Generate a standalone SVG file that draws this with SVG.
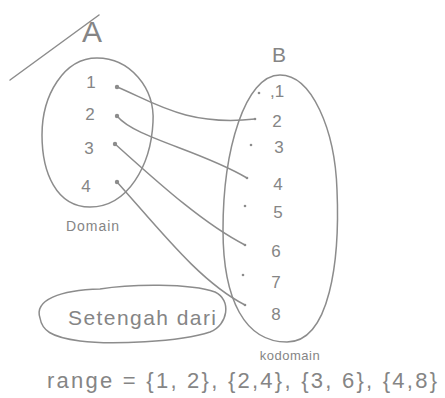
<svg xmlns="http://www.w3.org/2000/svg" width="445" height="398" viewBox="0 0 445 398">
<style>
  .ln { fill: none; stroke: #8c8c8c; stroke-width: 1.5; stroke-linecap: round; stroke-linejoin: round; }
  .t { font-family: "Liberation Sans", Arial, sans-serif; fill: #858585; }
  .num { font-size: 17px; text-anchor: middle; }
  .dot { fill: #8c8c8c; }
</style>
<rect width="445" height="398" fill="#ffffff"/>

<path class="ln" d="M10 80 C 40 58, 70 36, 99 15" stroke-width="2.2"/>

<g id="setA">
  <text class="t" x="92" y="42" font-size="30" text-anchor="middle">A</text>
  <path class="ln" d="M97 58 C 130 58, 155 88, 153 122 C 151 165, 128 207, 90 207 C 56 207, 42 172, 42 135 C 42 95, 64 58, 97 58 Z"/>
  <text class="t" x="93" y="231" font-size="14" text-anchor="middle" letter-spacing="1">Domain</text>
</g>
<g id="a1"><text class="t num" x="91" y="88">1</text><circle class="dot" cx="117" cy="87" r="2.2"/></g>
<g id="a2"><text class="t num" x="90" y="120">2</text><circle class="dot" cx="117" cy="116" r="2.2"/></g>
<g id="a3"><text class="t num" x="89" y="154">3</text><circle class="dot" cx="115" cy="144" r="2.2"/></g>
<g id="a4"><text class="t num" x="86" y="192" font-size="21">4</text><circle class="dot" cx="117" cy="182" r="2.2"/></g>

<g id="setB">
  <text class="t" x="279" y="62" font-size="21" text-anchor="middle">B</text>
  <path class="ln" d="M280 75 C 312 75, 335 130, 337 190 C 340 260, 330 342, 287 342 C 245 342, 223 300, 223 230 C 223 150, 245 75, 280 75 Z"/>
  <text class="t" x="290" y="360" font-size="13" text-anchor="middle" letter-spacing="0.5">kodomain</text>
</g>
<g id="b1"><circle class="dot" cx="259" cy="93" r="1.3"/><text class="t num" x="277" y="97" font-size="14">,1</text></g>
<g id="b2"><circle class="dot" cx="255" cy="119" r="1.3"/><text class="t num" x="277" y="127">2</text></g>
<g id="b3"><circle class="dot" cx="251" cy="145" r="1.3"/><text class="t num" x="279" y="153">3</text></g>
<g id="b4"><circle class="dot" cx="247" cy="178" r="1.3"/><text class="t num" x="278" y="190">4</text></g>
<g id="b5"><circle class="dot" cx="245" cy="206" r="1.3"/><text class="t num" x="278" y="218">5</text></g>
<g id="b6"><circle class="dot" cx="245" cy="245" r="1.3"/><text class="t num" x="276" y="257">6</text></g>
<g id="b7"><circle class="dot" cx="243" cy="275" r="1.3"/><text class="t num" x="276" y="288">7</text></g>
<g id="b8"><circle class="dot" cx="245" cy="305" r="1.3"/><text class="t num" x="276" y="320" font-size="19">8</text></g>

<g id="connectors">
  <path class="ln" d="M117 87 C 150 100, 185 127, 255 119"/>
  <path class="ln" d="M117 116 C 135 138, 200 150, 247 178"/>
  <path class="ln" d="M115 144 C 150 175, 200 222, 245 245"/>
  <path class="ln" d="M117 182 C 160 230, 200 282, 245 305"/>
</g>

<g id="note">
  <path class="ln" d="M40 318 C 34 300, 60 290, 100 289 C 130 284, 190 283, 215 292 C 232 300, 228 325, 210 332 C 180 342, 110 345, 80 341 C 50 337, 42 330, 40 318 Z"/>
  <text class="t" x="68" y="325" font-size="21" textLength="148" lengthAdjust="spacing">Setengah dari</text>
</g>

<text class="t" x="47" y="388" font-size="22" textLength="390" lengthAdjust="spacing">range = {1, 2}, {2,4}, {3, 6}, {4,8}</text>
</svg>
